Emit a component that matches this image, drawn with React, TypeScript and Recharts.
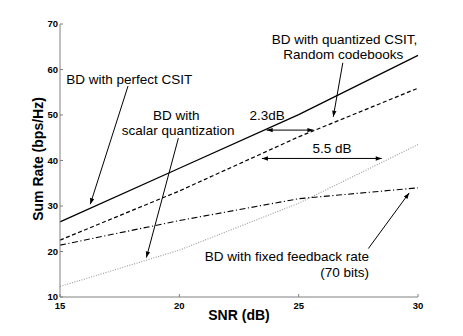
import React from 'react';
import { LineChart, Line, XAxis, YAxis, ReferenceLine, ReferenceDot, Label } from 'recharts';

const snr = [15, 20, 25, 30];
const perfectCsit = [26.5, 38.3, 50.1, 63.1];
const randomCodebooks = [22.5, 33.3, 45.2, 55.9];
const scalarQuant = [12.3, 20.3, 30.6, 43.5];
const fixedFeedback = [21.4, 26.8, 31.6, 34.0];
const xTicks = [15, 20, 25, 30];
const yTicks = [10, 20, 30, 40, 50, 60, 70];

const textNotes = [
  { x: 17.9, y: 57.8, text: 'BD with perfect CSIT', anchor: 'middle' },
  { x: 19.87, y: 50.0, text: 'BD with', anchor: 'middle' },
  { x: 19.95, y: 46.68, text: 'scalar quantization', anchor: 'middle' },
  { x: 23.68, y: 50.0, text: '2.3dB', anchor: 'middle' },
  { x: 26.4, y: 42.65, text: '5.5 dB', anchor: 'middle' },
  { x: 26.92, y: 66.63, text: 'BD with quantized CSIT,', anchor: 'middle' },
  { x: 26.87, y: 63.33, text: 'Random codebooks', anchor: 'middle' },
  { x: 27.95, y: 18.8, text: 'BD with fixed feedback rate', anchor: 'end' },
  { x: 27.95, y: 15.28, text: '(70 bits)', anchor: 'end' },
];

const arrowNotes = [
  { x1: 17.85, y1: 56.36, x2: 16.27, y2: 30.4, both: false },
  { x1: 19.96, y1: 44.92, x2: 18.62, y2: 18.67, both: false },
  { x1: 23.66, y1: 46.68, x2: 25.62, y2: 46.68, both: true },
  { x1: 23.46, y1: 40.45, x2: 28.48, y2: 40.45, both: true },
  { x1: 26.85, y1: 61.48, x2: 26.45, y2: 49.6, both: false },
  { x1: 27.92, y1: 20.65, x2: 29.63, y2: 32.88, both: false },
];

const data = snr.map((s, i) => ({
  snr: s,
  perfect: perfectCsit[i],
  random: randomCodebooks[i],
  scalar: scalarQuant[i],
  fixed: fixedFeedback[i],
}));

const FONT = 'Liberation Sans, Arial, Helvetica, sans-serif';
const AXIS = '#808080';

const headPts = (xa: number, ya: number, xb: number, yb: number) => {
  const ang = Math.atan2(yb - ya, xb - xa);
  const L = 6;
  const W = 2.2;
  const bx = xb - L * Math.cos(ang);
  const by = yb - L * Math.sin(ang);
  const px = -Math.sin(ang) * W;
  const py = Math.cos(ang) * W;
  return `${xb},${yb} ${bx + px},${by + py} ${bx - px},${by - py}`;
};

const makeArrow = (both: boolean) => (p: any) => {
  const { x1, y1, x2, y2 } = p;
  return (
    <g>
      <line x1={x1} y1={y1} x2={x2} y2={y2} stroke="#000" strokeWidth={1} />
      <polygon points={headPts(x1, y1, x2, y2)} fill="#000" />
      {both && <polygon points={headPts(x2, y2, x1, y1)} fill="#000" />}
    </g>
  );
};

const makeText = (text: string, anchor: string) => (p: any) => (
  <text
    x={p.cx}
    y={p.cy}
    textAnchor={anchor as any}
    dominantBaseline="central"
    fontSize={13.5}
    fontFamily={FONT}
    fill="#000"
  >
    {text}
  </text>
);

export default function App() {
  return (
    <div style={{ position: 'absolute', left: 0, top: 0, background: '#fff' }}>
      <LineChart
        width={463}
        height={336}
        data={data}
        margin={{ top: 24, right: 45, bottom: 9, left: 20 }}
        style={{ fontFamily: FONT }}
      >
        <XAxis
          dataKey="snr"
          type="number"
          domain={[15, 30]}
          ticks={xTicks}
          height={30}
          stroke={AXIS}
          tickSize={-3}
          tickMargin={8}
          tick={{ fill: '#000', fontSize: 9.5, fontWeight: 'bold', fontFamily: FONT }}
        >
          <Label
            content={({ viewBox }: any) => (
              <text
                x={viewBox.x + viewBox.width / 2}
                y={viewBox.y + 18}
                textAnchor="middle"
                dominantBaseline="central"
                fontSize={14}
                fontWeight="bold"
                fontFamily={FONT}
                fill="#000"
              >
                SNR (dB)
              </text>
            )}
          />
        </XAxis>
        <YAxis
          type="number"
          domain={[10, 70]}
          ticks={yTicks}
          width={40}
          stroke={AXIS}
          tickSize={-3}
          tickMargin={5}
          tick={{ fill: '#000', fontSize: 9.5, fontWeight: 'bold', fontFamily: FONT }}
        >
          <Label
            content={({ viewBox }: any) => {
              const cx = viewBox.x + 17.5;
              const cy = viewBox.y + viewBox.height / 2 - 1.5;
              return (
                <text
                  x={cx}
                  y={cy}
                  transform={`rotate(-90 ${cx} ${cy})`}
                  textAnchor="middle"
                  dominantBaseline="central"
                  fontSize={14}
                  fontWeight="bold"
                  fontFamily={FONT}
                  fill="#000"
                >
                  Sum Rate (bps/Hz)
                </text>
              );
            }}
          />
        </YAxis>
        <Line dataKey="perfect" stroke="#000" strokeWidth={1.3} dot={false} isAnimationActive={false} />
        <Line dataKey="random" stroke="#000" strokeWidth={1.2} strokeDasharray="4 2.5" dot={false} isAnimationActive={false} />
        <Line dataKey="scalar" stroke="#999" strokeWidth={1.1} strokeDasharray="1 1.5" dot={false} isAnimationActive={false} />
        <Line dataKey="fixed" stroke="#000" strokeWidth={1.1} strokeDasharray="6 2.5 1.2 2.5" dot={false} isAnimationActive={false} />
        {arrowNotes.map((a, i) => (
          <ReferenceLine
            key={'a' + i}
            segment={[{ x: a.x1, y: a.y1 }, { x: a.x2, y: a.y2 }]}
            ifOverflow="visible"
            shape={makeArrow(a.both)}
          />
        ))}
        {textNotes.map((t, i) => (
          <ReferenceDot
            key={'t' + i}
            x={t.x}
            y={t.y}
            r={0}
            ifOverflow="visible"
            shape={makeText(t.text, t.anchor)}
          />
        ))}
      </LineChart>
    </div>
  );
}
